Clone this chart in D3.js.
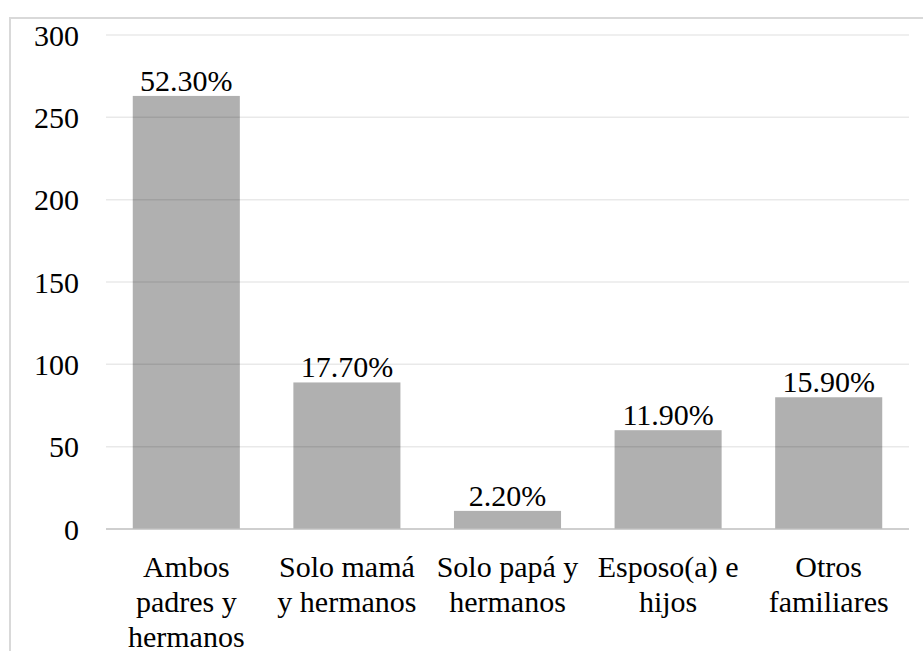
<!DOCTYPE html>
<html>
<head>
<meta charset="utf-8">
<script src="https://cdn.jsdelivr.net/npm/d3@7"></script>
</head>
<body style="margin:0">
<svg id="chart" width="923" height="651"></svg>
<script>
const categories = [
  ["Ambos", "padres y", "hermanos"],
  ["Solo mamá", "y hermanos"],
  ["Solo papá y", "hermanos"],
  ["Esposo(a) e", "hijos"],
  ["Otros", "familiares"]
];
const values = [263, 89, 11, 60, 80];
const labels = ["52.30%", "17.70%", "2.20%", "11.90%", "15.90%"];
const yTicks = [0, 50, 100, 150, 200, 250, 300];

const svg = d3.select("#chart");
const W = 923, H = 651;
const margin = { left: 106, right: 14, top: 35, bottom: 122 };

const x = d3.scaleBand()
  .domain(d3.range(categories.length))
  .range([margin.left, W - margin.right])
  .paddingInner(1 / 3)
  .paddingOuter(1 / 6);

const y = d3.scaleLinear()
  .domain([0, 300])
  .range([H - margin.bottom, margin.top]);

function serif(sel) {
  return sel
    .attr("font-family", d => "Liberation Serif")
    .style("font-family", "Liberation Serif")
    .attr("font-size", 30)
    .attr("fill", "#000");
}

// Y tick labels
serif(svg.selectAll("text.ytick")
  .data(yTicks)
  .join("text")
  .attr("class", "ytick"))
  .attr("x", 79)
  .attr("y", d => y(d))
  .attr("dy", "0.36em")
  .attr("text-anchor", "end")
  .text(d => d);

// Category labels
const cat = serif(svg.selectAll("text.cat")
  .data(categories)
  .join("text")
  .attr("class", "cat"))
  .attr("text-anchor", "middle")
  .attr("x", (d, i) => x(i) + x.bandwidth() / 2)
  .attr("y", y(0) + 48);
cat.selectAll("tspan")
  .data(d => d)
  .join("tspan")
  .attr("x", function () { return d3.select(this.parentNode).attr("x"); })
  .attr("dy", (d, i) => i === 0 ? 0 : 35)
  .text(d => d);

// Data labels
serif(svg.selectAll("text.lbl")
  .data(values)
  .join("text")
  .attr("class", "lbl"))
  .attr("text-anchor", "middle")
  .attr("x", (d, i) => x(i) + x.bandwidth() / 2)
  .attr("y", d => y(d) - 5)
  .text((d, i) => labels[i]);

// Chart border (extends beyond canvas on right/bottom)
svg.insert("rect", ":first-child")
  .attr("x", 10).attr("y", 18)
  .attr("width", W + 20).attr("height", H + 20)
  .attr("fill", "none")
  .attr("stroke", "#d9d9d9")
  .attr("stroke-width", 2);

// Bars
svg.insert("g", "text").selectAll("rect")
  .data(values)
  .join("rect")
  .attr("x", (d, i) => x(i))
  .attr("y", d => y(d))
  .attr("width", x.bandwidth())
  .attr("height", d => y(0) - y(d))
  .attr("fill", "#b0b0b0");

// Gridlines (drawn over bars, translucent)
const gridG = svg.insert("g", "text");
gridG.selectAll("line")
  .data(yTicks.filter(t => t > 0))
  .join("line")
  .attr("x1", margin.left)
  .attr("x2", W - margin.right)
  .attr("y1", d => y(d))
  .attr("y2", d => y(d))
  .attr("stroke", "rgba(0,0,0,0.085)")
  .attr("stroke-width", 1.5);

// X axis baseline
svg.insert("line", "text")
  .attr("x1", x.range()[0])
  .attr("x2", x.range()[1])
  .attr("y1", y(0))
  .attr("y2", y(0))
  .attr("stroke", "#bfbfbf")
  .attr("stroke-width", 1.5);
</script>
</body>
</html>
